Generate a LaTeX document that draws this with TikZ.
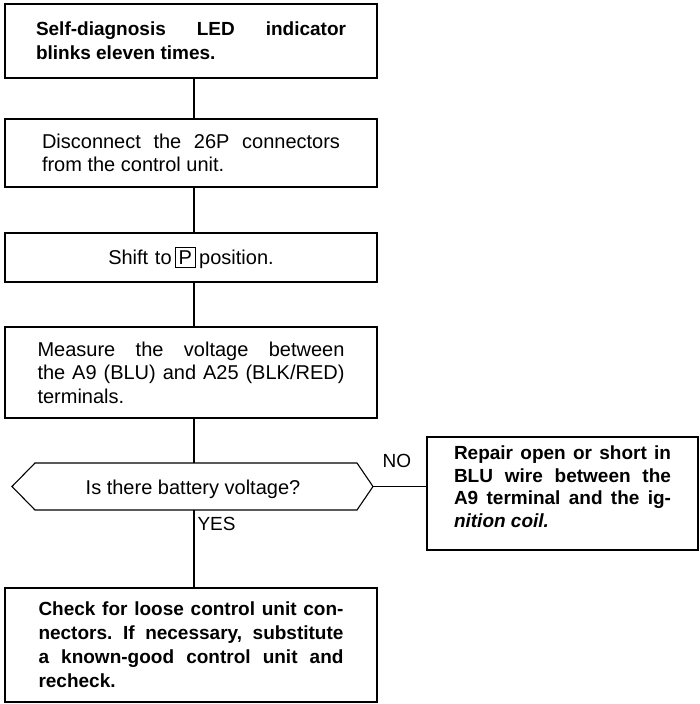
\documentclass[tikz,border=0pt]{standalone}
\usepackage{fontspec}
\setmainfont{Liberation Sans}
\begin{document}
\begin{tikzpicture}[x=1pt,y=-1pt,
  line width=1.1pt,
  txt/.style={font={\fontsize{19}{24}\selectfont\frenchspacing\tolerance=10000\hyphenpenalty=10000}},
  rtxt/.style={font={\fontsize{20}{23.5}\selectfont\frenchspacing\tolerance=10000\hyphenpenalty=10000}},
  stepbox/.style={draw, rectangle, inner sep=0pt, minimum width=372pt, txt,
    text width=305pt, align=justify},
  wire/.style={line width=1.1pt},
  lbl/.style={txt, inner sep=0pt, anchor=base west}]
\useasboundingbox (0,0) rectangle (699,704);

% process steps
\node[stepbox, minimum height=74pt, text width=310pt] (b1) at (191,41)
  {\bfseries Self-diagnosis LED indicator\linebreak blinks eleven times.};
\node[stepbox, rtxt, minimum height=68pt, text width=298pt] (b2) at (191,153)
  {Disconnect the 26P connectors\linebreak from the control unit.};
\node[stepbox, rtxt, minimum height=49pt, align=center] (b3) at (191,257.5)
  {Shift to\,{\setlength\fboxsep{3pt}\setlength\fboxrule{0.8pt}\fbox{P}}\,position.};
\node[stepbox, rtxt, minimum height=91pt, text width=307pt] (b4) at (191,372.5)
  {Measure the voltage between\linebreak the A9 (BLU) and A25 (BLK/RED)\linebreak terminals.};

% decision
\draw (12,486.5) -- (35,463) -- (357,463) -- (373,486.5) -- (357,510) -- (35,510) -- cycle;
\coordinate (dtop) at (194,463);
\coordinate (dbot) at (194,510);
\coordinate (dright) at (373,486.5);
\node[rtxt, inner sep=0pt] (dec) at (193,489) {Is there battery voltage?};

% outcomes
\node[stepbox, minimum height=114pt, text width=305pt] (b5) at (191,645)
  {\bfseries Check for loose control unit con-\linebreak nectors. If necessary, substitute\linebreak a known-good control unit and\linebreak recheck.};
\node[stepbox, minimum width=271pt, minimum height=113pt, text width=217pt,
  font={\fontsize{19}{22.5}\selectfont\frenchspacing\tolerance=10000\hyphenpenalty=10000},
  text height=0pt] (rb) at (562.5,493.5)
  {\bfseries Repair open or short in\linebreak BLU wire between the\linebreak A9 terminal and the ig-\linebreak \textit{nition coil.}};

% connectors
\draw[wire] ([xshift=3pt]b1.south) -- ([xshift=3pt]b2.north);
\draw[wire] ([xshift=3pt]b2.south) -- ([xshift=3pt]b3.north);
\draw[wire] ([xshift=3pt]b3.south) -- ([xshift=3pt]b4.north);
\draw[wire] ([xshift=3pt]b4.south) -- (dtop);
\draw[wire] (dbot) -- ([xshift=3pt]b5.north);
\draw[wire] (dright) -- (dright -| rb.west);

% branch labels
\node[lbl] (no) at (382,467) {NO};
\node[lbl] (yes) at (197,530) {YES};
\end{tikzpicture}
\end{document}
